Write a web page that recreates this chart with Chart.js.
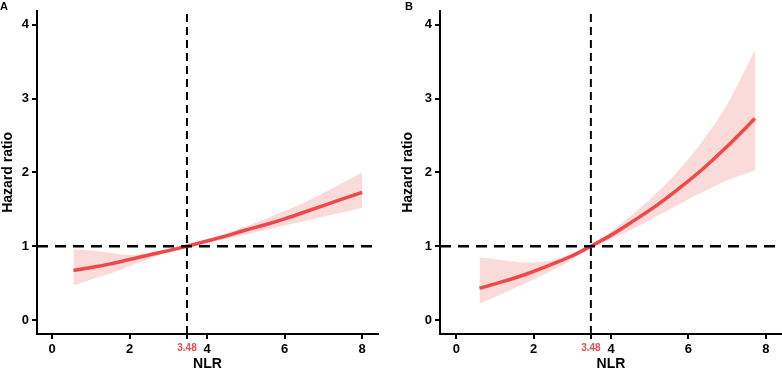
<!DOCTYPE html>
<html>
<head>
<meta charset="utf-8">
<script src="https://cdn.jsdelivr.net/npm/chart.js@4.4.1/dist/chart.umd.min.js"></script>
<style>
  body { margin: 0; background: #fff; }
  .panneau { position: absolute; top: 0; }
  .lettre { position: absolute; font: bold 11px "Liberation Sans", Arial, sans-serif; color: #000; }
</style>
</head>
<body>
<div class="panneau" style="left:0px"><canvas id="chartA" width="390" height="373"></canvas></div>
<div class="panneau" style="left:390px"><canvas id="chartB" width="392" height="373"></canvas></div>
<div class="lettre" style="left:0px;top:0px">A</div>
<div class="lettre" style="left:405px;top:0px">B</div>

<script>
//? Données (HR + intervalle de confiance).

const nlrA = [0.55, 1, 1.5, 2, 2.5, 3, 3.48, 4, 4.5, 5, 5.5, 6, 6.5, 7, 7.5, 8];
const hrA = [0.67, 0.71, 0.76, 0.82, 0.88, 0.94, 1.0, 1.07, 1.14, 1.22, 1.29, 1.37, 1.46, 1.55, 1.64, 1.73];
const hautA = [0.96, 0.94, 0.91, 0.88, 0.91, 0.96, 1.0, 1.09, 1.18, 1.27, 1.37, 1.48, 1.59, 1.72, 1.86, 2.0];
const basA = [0.47, 0.55, 0.63, 0.73, 0.83, 0.92, 1.0, 1.05, 1.10, 1.16, 1.22, 1.28, 1.34, 1.40, 1.46, 1.52];

const nlrB = [0.6, 1.2, 1.8, 2.4, 3.0, 3.48, 4.0, 4.6, 5.2, 5.8, 6.4, 7.0, 7.72];
const hrB = [0.43, 0.52, 0.62, 0.74, 0.87, 1.0, 1.15, 1.35, 1.56, 1.80, 2.06, 2.35, 2.73];
const hautB = [0.85, 0.81, 0.78, 0.80, 0.90, 1.0, 1.20, 1.45, 1.73, 2.06, 2.45, 2.92, 3.66];
const basB = [0.22, 0.36, 0.50, 0.65, 0.82, 1.0, 1.10, 1.24, 1.41, 1.58, 1.74, 1.89, 2.03];

const seuilNlr = 3.48;
const hrReference = 1;
const ticksX = [0, 2, seuilNlr, 4, 6, 8];
const ticksY = [0, 1, 2, 3, 4];
const titreX = "NLR";
const titreY = "Hazard ratio";

//? -------------------------------------------------

const police = '"Liberation Sans", Arial, sans-serif';
const rouge = "#ef4848";
const rose = "rgba(249, 205, 205, 0.75)";

const points = (xs, ys) => xs.map((x, i) => ({ x, y: ys[i] }));

//? Construction d'un graphique (panneau A ou B).

const constructionDuGraphique = (id, nlr, hr, haut, bas, xMin, xMax, yMin, yMax, padGauche, largeurAxeY, padDroite) => {
  const ctx = document.getElementById(id).getContext("2d");

  const data = {
    datasets: [
      //? Bande IC haute -> remplie jusqu'à la bande basse
      {
        data: points(nlr, haut),
        borderWidth: 0,
        pointRadius: 0,
        backgroundColor: rose,
        fill: "+1",
        cubicInterpolationMode: "monotone",
        order: 3,
      },
      {
        data: points(nlr, bas),
        borderWidth: 0,
        pointRadius: 0,
        fill: false,
        cubicInterpolationMode: "monotone",
        order: 3,
      },
      //? Courbe HR
      {
        data: points(nlr, hr),
        borderColor: rouge,
        borderWidth: 3.5,
        pointRadius: 0,
        fill: false,
        cubicInterpolationMode: "monotone",
        order: 2,
      },
      //? Ligne HR = 1
      {
        data: [{ x: xMin, y: hrReference }, { x: xMax, y: hrReference }],
        borderColor: "#000",
        borderWidth: 2.5,
        borderDash: [11, 7],
        pointRadius: 0,
        fill: false,
        order: 1,
      },
      //? Ligne seuil NLR
      {
        data: [{ x: seuilNlr, y: yMin }, { x: seuilNlr, y: yMax }],
        borderColor: "#000",
        borderWidth: 2,
        borderDash: [8, 5],
        pointRadius: 0,
        fill: false,
        order: 0,
      },
    ],
  };

  const options = {
    responsive: false,
    animation: false,
    devicePixelRatio: 1,
    layout: { padding: { left: padGauche, right: padDroite, top: 10, bottom: 0 } },
    plugins: { legend: { display: false }, tooltip: { enabled: false } },
    scales: {
      x: {
        type: "linear",
        min: xMin,
        max: xMax,
        afterBuildTicks: (axe) => {
          axe.ticks = ticksX.map((v) => ({ value: v }));
        },
        afterFit: (axe) => {
          axe.height = 39;
        },
        grid: { drawOnChartArea: false, drawTicks: true, tickLength: 5, color: "#000", lineWidth: 2 },
        border: { display: true, color: "#000", width: 2 },
        ticks: {
          autoSkip: false,
          maxRotation: 0,
          minRotation: 0,
          padding: 3,
          callback: (v) => (v === seuilNlr ? "3.48" : String(v)),
          color: (c) => (c.tick && c.tick.value === seuilNlr ? rouge : "#000"),
          font: (c) =>
            c.tick && c.tick.value === seuilNlr
              ? { family: police, size: 10, weight: "bold" }
              : { family: police, size: 13, weight: "bold" },
        },
        title: {
          display: true,
          text: titreX,
          color: "#000",
          font: { family: police, size: 14, weight: "bold" },
          padding: { top: 0, bottom: 0 },
        },
      },
      y: {
        type: "linear",
        min: yMin,
        max: yMax,
        afterBuildTicks: (axe) => {
          axe.ticks = ticksY.map((v) => ({ value: v }));
        },
        afterFit: (axe) => {
          axe.width = largeurAxeY;
        },
        grid: { drawOnChartArea: false, drawTicks: true, tickLength: 5, color: "#000", lineWidth: 2 },
        border: { display: true, color: "#000", width: 2 },
        ticks: {
          padding: 3,
          color: "#000",
          font: { family: police, size: 13, weight: "bold" },
        },
        title: {
          display: true,
          text: titreY,
          color: "#000",
          font: { family: police, size: 14, weight: "bold" },
          padding: { top: 0, bottom: 0 },
        },
      },
    },
  };

  new Chart(ctx, { type: "line", data, options });
};

//? -------------------------------------------------

constructionDuGraphique("chartA", nlrA, hrA, hautA, basA, -0.39, 8.41, -0.19, 4.19, 0, 37, 12);
constructionDuGraphique("chartB", nlrB, hrB, hautB, basB, -0.42, 8.42, -0.19, 4.19, 10, 40, 0);
</script>
</body>
</html>
